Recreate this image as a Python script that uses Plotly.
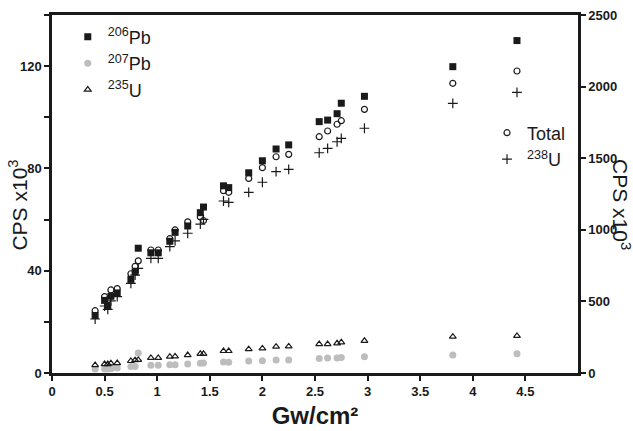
import plotly.graph_objects as go

# Power density (Gw/cm^2)
gw = [0.41, 0.50, 0.53, 0.56, 0.62, 0.75, 0.79, 0.82, 0.94, 1.01, 1.12, 1.17, 1.29, 1.41,
      1.44, 1.63, 1.68, 1.87, 2.00, 2.13, 2.25, 2.54, 2.62, 2.71, 2.75, 2.97, 3.81, 4.42]

# Left axis (CPS x10^3)
pb206 = [22.5, 28.4, 26.2, 30.0, 31.3, 36.6, 39.6, 48.8, 47.0, 47.0, 51.5, 55.0, 57.5, 62.7,
         64.9, 73.2, 72.5, 78.3, 83.0, 87.6, 89.2, 98.3, 98.9, 101.4, 105.5, 108.2, 119.8, 130.0]
pb207 = [1.6, 1.6, 1.6, 1.7, 2.0, 2.5, 2.5, 7.8, 3.0, 3.0, 3.2, 3.2, 3.5, 3.8,
         3.9, 4.3, 4.2, 4.7, 4.8, 5.1, 5.1, 5.7, 5.9, 5.9, 6.1, 6.4, 7.0, 7.5]
u235 = [3.1, 3.5, 3.5, 3.8, 3.9, 4.7, 5.0, 5.1, 5.9, 5.9, 6.4, 6.5, 7.0, 7.5,
        7.5, 8.6, 8.6, 9.3, 9.6, 10.3, 10.4, 11.3, 11.3, 11.6, 12.0, 12.6, 14.2, 14.5]

# Right axis (CPS x10^3)
total = [435, 533, 510, 580, 589, 693, 745, 783, 859, 859, 938, 999, 1056, 1090,
         1065, 1273, 1262, 1359, 1434, 1510, 1527, 1650, 1690, 1737, 1762, 1841, 2023, 2109]
u238 = [377, 468, 445, 503, 533, 626, 684, 731, 801, 801, 882, 922, 976, 1040,
        1073, 1201, 1192, 1262, 1332, 1406, 1422, 1538, 1569, 1615, 1639, 1709, 1883, 1960]

x_ticks = [0, 0.5, 1, 1.5, 2, 2.5, 3, 3.5, 4, 4.5]
x_tick_labels = ["0", "0.5", "1", "1.5", "2", "2.5", "3", "3.5", "4", "4.5"]

FONT = "Liberation Sans, Arial, sans-serif"
INK = "#1a1a1a"

fig = go.Figure()

fig.add_trace(go.Scatter(x=gw, y=pb206, mode="markers", name="<sup>206</sup>Pb",
                         marker=dict(symbol="square", size=7, color=INK), legend="legend"))
fig.add_trace(go.Scatter(x=gw, y=pb207, mode="markers", name="<sup>207</sup>Pb",
                         marker=dict(symbol="circle", size=7, color="#bdbdbd"), legend="legend"))
fig.add_trace(go.Scatter(x=gw, y=u235, mode="markers", name="<sup>235</sup>U",
                         marker=dict(symbol="triangle-up-open", size=6, color=INK,
                                     line=dict(width=1.2, color=INK)), legend="legend"))
fig.add_trace(go.Scatter(x=gw, y=total, mode="markers", name="Total", yaxis="y2",
                         marker=dict(symbol="circle-open", size=6, color=INK,
                                     line=dict(width=1.2, color=INK)), legend="legend2"))
fig.add_trace(go.Scatter(x=gw, y=u238, mode="markers", name="<sup>238</sup>U", yaxis="y2",
                         marker=dict(symbol="cross-thin", size=7, color=INK,
                                     line=dict(width=1.2, color=INK)), legend="legend2"))

axis_common = dict(showline=True, linewidth=2.5, linecolor=INK, ticks="outside",
                   ticklen=5, tickwidth=1.5, tickcolor=INK, showgrid=False, zeroline=False,
                   automargin=False,
                   tickfont=dict(family=FONT, size=13, color=INK, weight="bold"))

fig.update_layout(
    width=633, height=431,
    margin=dict(l=52, r=55, t=15, b=58, autoexpand=False),
    paper_bgcolor="white", plot_bgcolor="white",
    font=dict(family=FONT, color=INK),
    xaxis=dict(range=[0, 5], tickvals=x_ticks, ticktext=x_tick_labels, mirror=True,
               title=dict(text="Gw/cm²", font=dict(family=FONT, size=24, weight="bold", color=INK),
                          standoff=9),
               **axis_common),
    yaxis=dict(range=[0, 140], dtick=40, tick0=0,
               minor=dict(ticks="outside", dtick=20, ticklen=5, tickwidth=1.5, tickcolor=INK),
               **axis_common),
    yaxis2=dict(range=[0, 2500], dtick=500, tick0=0, overlaying="y", side="right",
                **axis_common),
    legend=dict(x=0.03, y=0.99, xanchor="left", yanchor="top", bgcolor="rgba(0,0,0,0)",
                font=dict(family=FONT, size=18, color=INK), tracegroupgap=0),
    legend2=dict(x=0.827, y=0.722, xanchor="left", yanchor="top", bgcolor="rgba(0,0,0,0)",
                 font=dict(family=FONT, size=18, color=INK), tracegroupgap=0),
    annotations=[
        dict(text="CPS x10<sup>3</sup>", xref="paper", yref="paper", x=-0.065, y=0.47,
             xanchor="center", yanchor="middle",
             textangle=-90, showarrow=False, font=dict(family=FONT, size=21, color=INK)),
        dict(text="CPS x10<sup>3</sup>", xref="paper", yref="paper", x=1.083, y=0.47,
             xanchor="center", yanchor="middle",
             textangle=90, showarrow=False, font=dict(family=FONT, size=21, color=INK)),
    ],
)

fig.write_html("out.html", config={"displayModeBar": False},
               post_script="document.body.style.margin='0';")
